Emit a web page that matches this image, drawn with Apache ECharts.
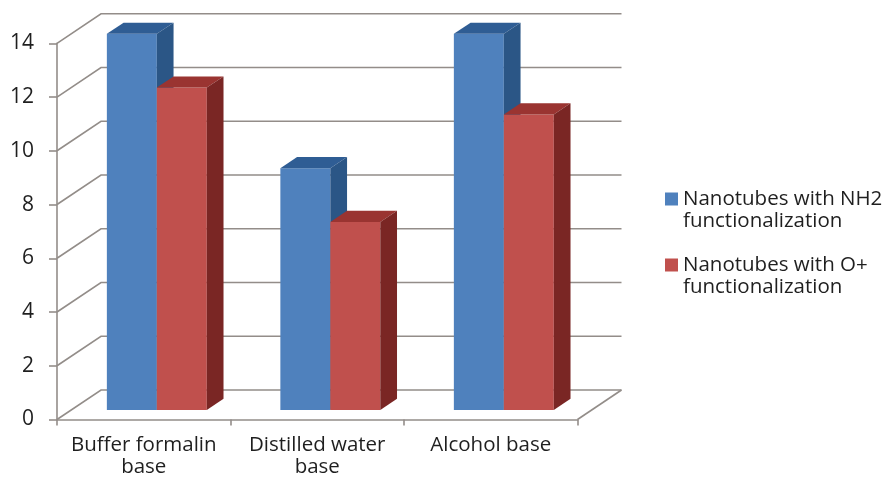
<!DOCTYPE html>
<html>
<head>
<meta charset="utf-8">
<script src="https://cdn.jsdelivr.net/npm/echarts@6/dist/echarts.min.js"></script>
<style>
  html, body { margin: 0; padding: 0; background: #ffffff; }
  #chart { width: 886px; height: 480px; }
</style>
</head>
<body>
<div id="chart"></div>
<script>
// Chart data
const categories = ['Buffer formalin\nbase', 'Distilled water\nbase', 'Alcohol base'];
const seriesNames = ['Nanotubes with NH2 functionalization', 'Nanotubes with O+ functionalization'];
const nh2Values = [14, 9, 14];
const oPlusValues = [12, 7, 11];
const yTicks = [0, 2, 4, 6, 8, 10, 12, 14];

// 3D look: depth vector of the floor/walls and placement of the bars inside it
const DEPTH_X = 44;
const DEPTH_Y = -29.5;
const BAR_FRONT = 0.32;   // fraction of depth where the bar front faces sit
const BAR_DEPTH = 0.38;   // fraction of depth taken by each bar
const BAR_RATIO = 0.288;  // bar width as a share of the category band

const palette = [
  { front: '#4F81BD', top: '#2F5D94', side: '#2B5686' },
  { front: '#C0504D', top: '#9A3431', side: '#7A2624' }
];
const gridColor = '#938D89';
const textColor = '#1f1f1f';
const fontFamily = '"Open Sans", "Noto Sans", sans-serif';

const chart = echarts.init(document.getElementById('chart'), null, { renderer: 'canvas' });

// Back wall gridlines and the left wall / floor diagonals
function renderWalls(params, api) {
  const cs = params.coordSys;
  const v = api.value(1);
  const y = api.coord([0, v])[1];
  const x0 = cs.x;
  const x1 = cs.x + cs.width;
  const style = { stroke: gridColor, lineWidth: 1.6, fill: null };
  const children = [
    { type: 'polyline', shape: { points: [[x0, y], [x0 + DEPTH_X, y + DEPTH_Y], [x1 + DEPTH_X, y + DEPTH_Y]] }, style: style, silent: true }
  ];
  if (v === 0) {
    children.push({ type: 'line', shape: { x1: x1, y1: y, x2: x1 + DEPTH_X, y2: y + DEPTH_Y }, style: style, silent: true });
  }
  return { type: 'group', children: children };
}

// A column drawn as a prism: front face, top face and right side face
function makeBarRenderer(seriesIndex) {
  return function (params, api) {
    const i = api.value(0);
    const v = api.value(1);
    const topPt = api.coord([i, v]);
    const basePt = api.coord([i, 0]);
    const band = api.size([1, 0])[0];
    const w = band * BAR_RATIO;
    const fdx = DEPTH_X * BAR_FRONT, fdy = DEPTH_Y * BAR_FRONT;
    const ddx = DEPTH_X * BAR_DEPTH, ddy = DEPTH_Y * BAR_DEPTH;
    const xl = topPt[0] - 1 + (seriesIndex === 0 ? -w : 0) + fdx;
    const xr = xl + w;
    const yt = topPt[1] + fdy;
    const yb = basePt[1] + fdy;
    const c = palette[seriesIndex];
    return {
      type: 'group',
      children: [
        { type: 'polygon', shape: { points: [[xl, yt], [xr, yt], [xr, yb], [xl, yb]] }, style: { fill: c.front } },
        { type: 'polygon', shape: { points: [[xl, yt], [xr, yt], [xr + ddx, yt + ddy], [xl + ddx, yt + ddy]] }, style: { fill: c.top } },
        { type: 'polygon', shape: { points: [[xr, yt], [xr + ddx, yt + ddy], [xr + ddx, yb + ddy], [xr, yb]] }, style: { fill: c.side } }
      ]
    };
  };
}

const option = {
  backgroundColor: '#ffffff',
  animation: false,
  grid: { left: 57, right: 308.5, top: 43.3, bottom: 60.5, containLabel: false },
  xAxis: {
    type: 'category',
    data: categories,
    boundaryGap: true,
    axisLine: { show: true, lineStyle: { color: gridColor, width: 1.6 } },
    axisTick: { show: true, interval: 0, length: 6, lineStyle: { color: gridColor, width: 1.6 } },
    axisLabel: { interval: 0, margin: 15, color: textColor, fontFamily: fontFamily, fontSize: 20.5, lineHeight: 22 },
    splitLine: { show: false }
  },
  yAxis: {
    type: 'value',
    min: 0,
    max: 14,
    interval: 2,
    axisLine: { show: true, lineStyle: { color: gridColor, width: 1.6 } },
    axisTick: { show: true, length: 8, lineStyle: { color: gridColor, width: 1.6 } },
    axisLabel: { margin: 23, color: textColor, fontFamily: fontFamily, fontSize: 21 },
    splitLine: { show: false }
  },
  legend: {
    orient: 'vertical',
    left: 660,
    top: 161,
    padding: 5,
    itemGap: 0,
    itemWidth: 13,
    itemHeight: 13,
    icon: 'rect',
    data: seriesNames,
    // a leading blank line keeps the marker level with the first text line
    formatter: function (name) {
      return '\n' + name.replace(' functionalization', '\nfunctionalization');
    },
    textStyle: { color: textColor, fontFamily: fontFamily, fontSize: 20.5, lineHeight: 22 }
  },
  series: [
    {
      type: 'custom',
      name: 'walls',
      silent: true,
      z: 1,
      renderItem: renderWalls,
      data: yTicks.map(function (t) { return [0, t]; }),
      encode: { x: 0, y: 1 }
    },
    {
      type: 'custom',
      name: seriesNames[0],
      z: 2,
      itemStyle: { color: palette[0].front },
      renderItem: makeBarRenderer(0),
      data: nh2Values.map(function (v, i) { return [i, v]; }),
      encode: { x: 0, y: 1 }
    },
    {
      type: 'custom',
      name: seriesNames[1],
      z: 3,
      itemStyle: { color: palette[1].front },
      renderItem: makeBarRenderer(1),
      data: oPlusValues.map(function (v, i) { return [i, v]; }),
      encode: { x: 0, y: 1 }
    }
  ]
};

chart.setOption(option);
</script>
</body>
</html>
